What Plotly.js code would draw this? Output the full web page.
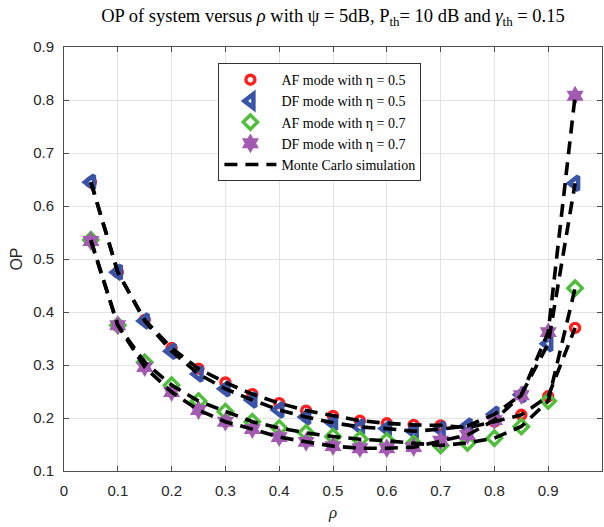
<!DOCTYPE html>
<html>
<head>
<meta charset="utf-8">
<script src="https://cdn.plot.ly/plotly-3.0.1.min.js"></script>
<style>html,body{margin:0;padding:0;background:#fff;}#chart{width:604px;height:527px;}</style>
</head>
<body>
<div id="chart"></div>
<script>
// rho values
const rho = [0.05,0.10,0.15,0.20,0.25,0.30,0.35,0.40,0.45,0.50,0.55,0.60,0.65,0.70,0.75,0.80,0.85,0.90,0.95];
// analytic OP
const afEta05 = [0.645,0.475,0.385,0.332,0.293,0.267,0.245,0.228,0.214,0.204,0.195,0.190,0.187,0.186,0.182,0.193,0.206,0.241,0.370];
const dfEta05 = [0.645,0.475,0.383,0.326,0.283,0.255,0.234,0.215,0.202,0.191,0.183,0.180,0.175,0.179,0.185,0.207,0.244,0.340,0.643];
const afEta07 = [0.536,0.375,0.305,0.262,0.232,0.212,0.193,0.181,0.172,0.165,0.160,0.157,0.152,0.148,0.153,0.162,0.184,0.232,0.445];
const dfEta07 = [0.534,0.375,0.296,0.249,0.215,0.193,0.179,0.164,0.155,0.147,0.143,0.143,0.145,0.157,0.168,0.196,0.243,0.362,0.808];
// Monte Carlo simulation
const mcAfEta05 = [0.645,0.475,0.385,0.332,0.293,0.267,0.245,0.228,0.214,0.204,0.195,0.190,0.187,0.186,0.182,0.193,0.206,0.241,0.370];
const mcDfEta05 = [0.645,0.475,0.383,0.326,0.283,0.255,0.234,0.215,0.202,0.191,0.183,0.180,0.175,0.179,0.185,0.207,0.244,0.340,0.643];
const mcAfEta07 = [0.536,0.375,0.305,0.262,0.232,0.212,0.193,0.181,0.172,0.165,0.160,0.157,0.152,0.148,0.153,0.162,0.184,0.232,0.445];
const mcDfEta07 = [0.534,0.375,0.296,0.249,0.215,0.193,0.179,0.164,0.155,0.147,0.143,0.143,0.145,0.157,0.168,0.196,0.243,0.362,0.808];

const xTickVals = [0,0.1,0.2,0.3,0.4,0.5,0.6,0.7,0.8,0.9,1];
const xTickText = ["0","0.1","0.2","0.3","0.4","0.5","0.6","0.7","0.8","0.9","1"];
const yTickVals = [0.1,0.2,0.3,0.4,0.5,0.6,0.7,0.8,0.9];
const yTickText = ["0.1","0.2","0.3","0.4","0.5","0.6","0.7","0.8","0.9"];

const names = ["AF mode with η = 0.5","DF mode with η = 0.5","AF mode with η = 0.7","DF mode with η = 0.7","Monte Carlo simulation"];

const traces = [
  {x: rho, y: afEta05, name: names[0], mode: 'markers', type: 'scatter',
   marker: {symbol: 'circle-open', size: 9, color: '#FF1F1F', line: {width: 3.4, color: '#FF1F1F'}}},
  {x: rho, y: dfEta05, name: names[1], mode: 'markers', type: 'scatter',
   marker: {symbol: 'triangle-left-open', size: 12, color: '#3A55A8', line: {width: 4.5, color: '#3A55A8'}}},
  {x: rho, y: afEta07, name: names[2], mode: 'markers', type: 'scatter',
   marker: {symbol: 'diamond-open', size: 11, color: '#4FBE3A', line: {width: 3.4, color: '#4FBE3A'}}},
  {x: rho, y: dfEta07, name: names[3], mode: 'markers', type: 'scatter',
   marker: {symbol: 'hexagram', size: 15, color: '#A25BB0', line: {width: 0}}}
];
const mcSets = [mcAfEta05, mcDfEta05, mcAfEta07, mcDfEta07];
mcSets.forEach((ys, i) => {
  traces.push({x: rho, y: ys, name: names[4], mode: 'lines', type: 'scatter',
    showlegend: i === 0, legendgroup: 'mc',
    line: {color: '#000000', width: 3.6, dash: '13px,8px'}});
});

const axisCommon = {
  showgrid: true, gridcolor: '#E3E3E3', gridwidth: 1,
  zeroline: false, showline: true, linecolor: '#4D4D4D', linewidth: 1,
  mirror: 'ticks', ticks: 'inside', ticklen: 5, tickcolor: '#4D4D4D',
  tickfont: {family: 'Liberation Sans, Arial, sans-serif', size: 15, color: '#262626'}
};

const layout = {
  width: 604, height: 527,
  margin: {l: 64, r: 2, t: 47, b: 56},
  paper_bgcolor: '#ffffff', plot_bgcolor: '#ffffff',
  title: {text: 'OP of system versus <i>ρ</i> with ψ = 5dB, P<sub>th</sub>= 10 dB and <i>γ</i><sub>th</sub> = 0.15',
    x: 0.5, xref: 'paper', xanchor: 'center', y: 0.97, yanchor: 'middle',
    font: {family: 'Liberation Serif, Times New Roman, serif', size: 18.5, color: '#000'}},
  xaxis: Object.assign({}, axisCommon, {
    range: [0, 1], tickvals: xTickVals, ticktext: xTickText, ticklabelstandoff: 6,
    title: {text: '<i>ρ</i>', standoff: 8, font: {family: 'Liberation Serif, Times New Roman, serif', size: 17, color: '#262626'}}
  }),
  yaxis: Object.assign({}, axisCommon, {
    range: [0.1, 0.9], tickvals: yTickVals, ticktext: yTickText, ticklabelstandoff: 6,
    title: {text: 'OP', standoff: 6, font: {family: 'Liberation Sans, Arial, sans-serif', size: 16, color: '#262626'}}
  }),
  legend: {
    x: 0.287, y: 0.962, xanchor: 'left', yanchor: 'top',
    bgcolor: '#ffffff', bordercolor: '#333333', borderwidth: 1,
    font: {family: 'Liberation Serif, Times New Roman, serif', size: 14, color: '#000'},
    tracegroupgap: 0, itemwidth: 52
  },
  showlegend: true
};

Plotly.newPlot('chart', traces, layout, {displayModeBar: false, staticPlot: true});
</script>
</body>
</html>
